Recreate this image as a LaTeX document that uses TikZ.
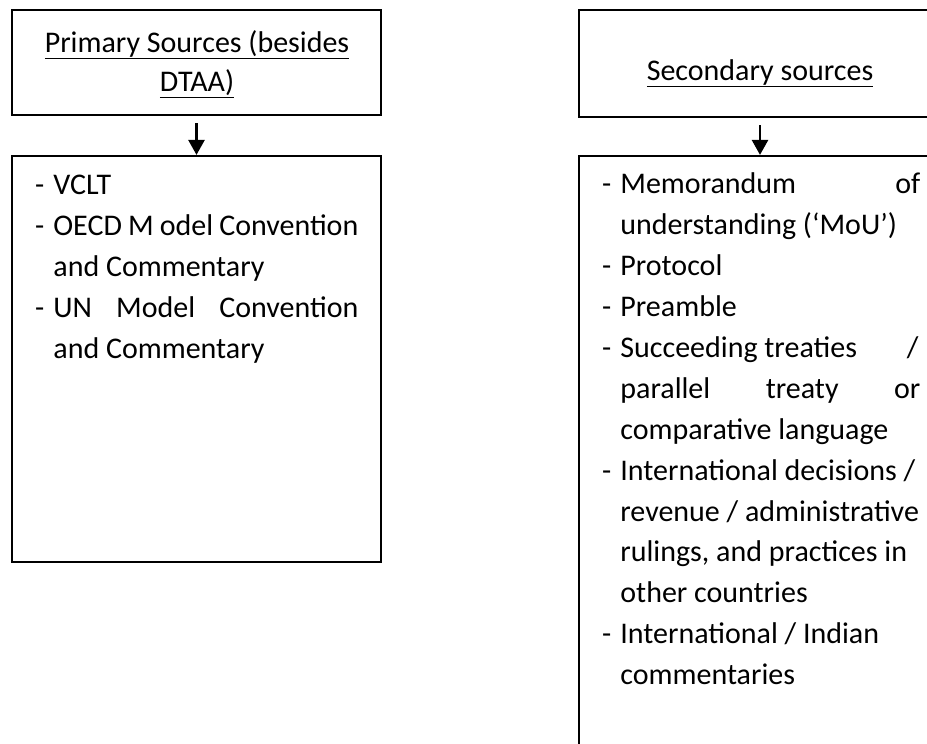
\documentclass[tikz,border=0pt]{standalone}
\usepackage{fontspec}
\setmainfont{Carlito}
\usetikzlibrary{arrows.meta}
\begin{document}
\begin{tikzpicture}[x=1pt,y=-1pt,
  boxshape/.style={draw, line width=2.2pt, inner sep=0pt},
  headtext/.style={inner sep=0pt, align=center, font=\fontsize{30pt}{39pt}\selectfont},
  listtext/.style={anchor=base west, inner sep=0pt, font=\fontsize{30pt}{41pt}\selectfont},
  conn/.style={line width=2.6pt, shorten <=7pt, -{Triangle[length=15pt,width=16pt]}}]
\useasboundingbox (0,0) rectangle (927,744);
\clip (0,0) rectangle (927,744);
% left column
\node[boxshape, minimum width=369pt, minimum height=105pt] (ptop) at (196.5,62.5) {};
\node[boxshape, minimum width=369pt, minimum height=406pt] (pbot) at (196.5,359) {};
\node[headtext] (ptoptext) at (197,64) {\underline{Primary Sources (besides}\\\underline{DTAA)}};
\node[listtext] (plist) at (35,194) {\begin{tabular}[t]{@{}l@{\hspace{9pt}}l@{}}
-& VCLT\\
-& \makebox[305pt][s]{OECD M odel Convention}\\
 & and Commentary\\
-& \makebox[305pt][s]{UN Model Convention}\\
 & and Commentary
\end{tabular}};
\draw[conn] (ptop.south) -- (pbot.north);
% right column
\node[boxshape, minimum width=362pt, minimum height=107pt] (stop) at (760,63.5) {};
\node[boxshape, minimum width=362pt, minimum height=700pt] (sbot) at (760,506) {};
\node[headtext, anchor=base] (stoptext) at (760,80) {\underline{Secondary sources}};
\node[listtext] (slist) at (602,193) {\begin{tabular}[t]{@{}l@{\hspace{9pt}}l@{}}
-& \makebox[300pt][s]{Memorandum of}\\
 & understanding (‘MoU’)\\
-& Protocol\\
-& Preamble\\
-& \makebox[298pt][l]{Succeeding treaties\hfill /}\\
 & \makebox[300pt][s]{parallel treaty or}\\
 & comparative language\\
-& International decisions /\\
 & revenue / administrative\\
 & rulings, and practices in\\
 & other countries\\
-& International / Indian\\
 & commentaries
\end{tabular}};
\draw[conn] (stop.south) -- (sbot.north);
\end{tikzpicture}
\end{document}
